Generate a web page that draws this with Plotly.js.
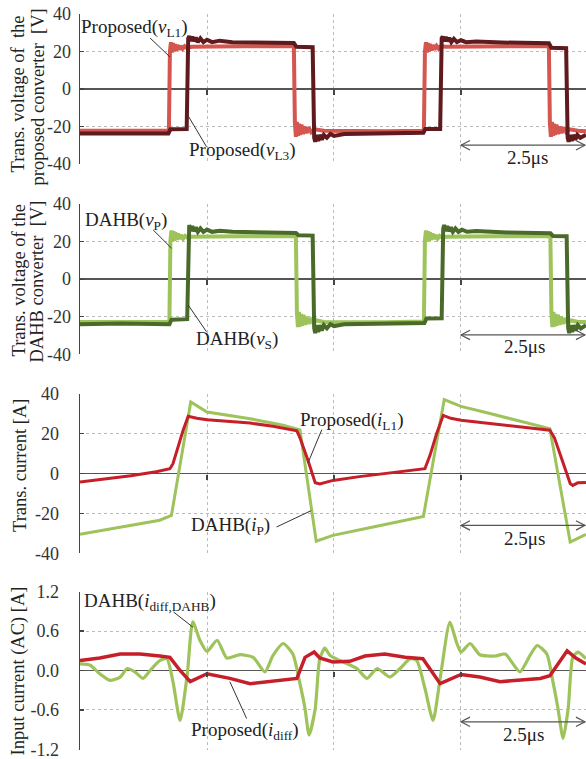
<!DOCTYPE html>
<html><head><meta charset="utf-8">
<script src="https://cdn.plot.ly/plotly-3.0.1.min.js"></script>
<style>html,body{margin:0;padding:0;background:#fff;overflow:hidden}</style>
</head><body><div id="chart" style="width:586px;height:759px"></div>
<script>
// ---- data: [time (µs), value] pairs ----
const vL1 = [[0,-22.3],[1.0,-22.6],[1.75,-22.3],[1.77,20],[1.79,25],[1.81,19.5],[1.83,24.5],[1.85,20],[1.87,24],[1.89,20.5],[1.92,23.5],[1.95,21],[1.98,23],[2.02,21.5],[2.06,22.8],[2.10,22],[2.20,22.5],[3.2,22.8],[4.21,23],[4.23,-18],[4.25,-25.5],[4.27,-17.5],[4.29,-25],[4.31,-18.5],[4.33,-24.5],[4.36,-19],[4.39,-24],[4.42,-20],[4.46,-23.5],[4.50,-20.5],[4.55,-23],[4.62,-21.5],[4.80,-22.3],[6.0,-22.5],[6.77,-22.3],[6.79,20],[6.81,25],[6.83,19.5],[6.85,24.5],[6.87,20],[6.89,24],[6.92,20.5],[6.95,23.5],[6.98,21],[7.02,23],[7.06,21.5],[7.10,22.8],[7.20,22.5],[8.2,22.8],[9.23,23],[9.25,-18],[9.27,-25.5],[9.29,-17.5],[9.31,-25],[9.33,-18.5],[9.35,-24.5],[9.38,-19],[9.41,-24],[9.44,-20],[9.48,-23.5],[9.52,-20.5],[9.57,-23],[9.64,-21.5],[9.80,-22.3],[9.96,-22.5]];
const vL3 = [[0,-23.8],[1.0,-23.6],[1.74,-23.8],[1.78,-21.5],[2.10,-21.3],[2.13,27],[2.15,28.3],[2.18,25.5],[2.21,28],[2.24,25.5],[2.28,27.5],[2.32,25],[2.37,27],[2.43,25],[2.5,26.3],[2.6,25],[2.75,25.8],[3.0,25],[3.5,24.8],[4.0,24.6],[4.21,24.5],[4.26,22.5],[4.58,22.3],[4.61,-26],[4.63,-28.2],[4.66,-24.5],[4.69,-27.8],[4.72,-24.5],[4.76,-27],[4.80,-24.5],[4.86,-26],[4.93,-24],[5.0,-25],[5.2,-24],[5.6,-23.8],[6.2,-23.6],[6.76,-23.3],[6.80,-21.3],[7.09,-21.3],[7.12,27],[7.14,28],[7.17,25.5],[7.20,27.8],[7.23,25.5],[7.27,27.3],[7.31,25],[7.36,26.8],[7.42,25],[7.5,26],[7.6,25],[7.8,25.3],[8.3,24.8],[9.0,24.6],[9.23,24.4],[9.28,22],[9.57,21.8],[9.60,-26],[9.62,-28.2],[9.65,-24.5],[9.68,-27.8],[9.71,-24.5],[9.75,-27],[9.79,-24.5],[9.85,-26],[9.96,-24.5]];
const vP = [[0,-22.8],[1.0,-23],[1.76,-22.8],[1.78,20.5],[1.80,26],[1.82,20],[1.84,25.5],[1.86,20.5],[1.88,25],[1.90,21],[1.93,24.3],[1.96,21.3],[1.99,23.6],[2.03,21.6],[2.07,23],[2.11,22.2],[2.20,22.6],[3.2,22.8],[4.25,22.8],[4.27,-18],[4.29,-25.5],[4.31,-17.5],[4.33,-25.2],[4.35,-18.5],[4.37,-24.8],[4.40,-19],[4.43,-24.3],[4.46,-20],[4.50,-23.8],[4.54,-20.8],[4.59,-23.3],[4.66,-22],[4.80,-22.8],[6.0,-23],[6.77,-22.6],[6.79,20.5],[6.81,26],[6.83,20],[6.85,25.5],[6.87,20.5],[6.89,25],[6.91,21],[6.94,24.3],[6.97,21.3],[7.00,23.6],[7.04,21.6],[7.08,23],[7.13,22.2],[7.22,22.6],[8.2,22.8],[9.26,22.8],[9.28,-18],[9.30,-25.5],[9.32,-17.5],[9.34,-25.2],[9.36,-18.5],[9.38,-24.8],[9.41,-19],[9.44,-24.3],[9.47,-20],[9.51,-23.8],[9.55,-20.8],[9.60,-23.3],[9.67,-22],[9.80,-22.8],[9.96,-22.8]];
const vS = [[0,-24],[0.8,-23.6],[1.76,-24],[1.80,-21.6],[2.11,-21.3],[2.13,27],[2.15,28.8],[2.18,25.5],[2.21,28.3],[2.24,25.5],[2.28,27.6],[2.32,25.2],[2.37,27],[2.43,25.2],[2.5,26.4],[2.6,25.2],[2.75,25.8],[3.0,25.2],[3.6,24.9],[4.25,24.6],[4.30,23.4],[4.58,23.2],[4.61,-26],[4.63,-28.8],[4.66,-24.5],[4.69,-28.2],[4.72,-24.5],[4.76,-27.3],[4.80,-24.5],[4.86,-26.2],[4.93,-24],[5.0,-25],[5.2,-24],[5.8,-23.8],[6.4,-23.5],[6.78,-23.4],[6.82,-20.9],[7.12,-20.8],[7.15,27],[7.17,28.8],[7.20,25.5],[7.23,28.3],[7.26,25.5],[7.30,27.6],[7.34,25.2],[7.39,27],[7.45,25.2],[7.52,26.3],[7.62,25.2],[7.8,25.6],[8.4,24.9],[9.26,24.5],[9.31,23],[9.58,22.9],[9.61,-26],[9.63,-28.8],[9.66,-24.5],[9.69,-28.2],[9.72,-24.5],[9.76,-27.3],[9.80,-24.5],[9.86,-26.2],[9.96,-24.5]];
const iL1 = [[0,-4.2],[0.5,-2.6],[1.0,-1],[1.5,1],[1.77,2.5],[1.83,5],[1.90,10.9],[2.03,21.8],[2.13,28.8],[2.3,27.8],[2.5,27.1],[3.35,25.4],[3.8,23.8],[4.2,21.8],[4.27,21.5],[4.33,18],[4.40,13.4],[4.47,8],[4.53,3.3],[4.63,-4.6],[4.72,-5.2],[4.98,-3.4],[5.5,-1.5],[6.0,0],[6.5,1.5],[6.79,2.5],[6.89,9.2],[7.02,20.1],[7.15,29.3],[7.3,27.8],[7.5,26.8],[8.4,24.3],[9.25,21.8],[9.34,18],[9.41,13],[9.48,7.5],[9.55,2.5],[9.65,-5],[9.70,-5.9],[9.8,-4.6],[9.96,-4.4]];
const iP = [[0,-30.5],[0.79,-26.8],[1.57,-23.4],[1.80,-21],[2.18,36],[2.5,31],[3.35,27.6],[4.0,24.3],[4.33,22],[4.65,-33.9],[4.98,-31],[5.77,-26.8],[6.43,-23.5],[6.76,-21.5],[7.17,37.2],[7.5,33.8],[8.07,30.2],[8.73,25.9],[9.25,22.6],[9.65,-34.4],[9.96,-30.5]];
const iDiff = [[0,0.15],[0.39,0.19],[0.79,0.25],[1.18,0.25],[1.57,0.22],[1.77,0.20],[1.97,0.0],[2.17,-0.17],[2.5,-0.05],[2.95,-0.12],[3.35,-0.20],[3.94,-0.15],[4.27,-0.12],[4.43,0.2],[4.61,0.28],[4.72,0.19],[4.98,0.13],[5.31,0.14],[5.61,0.22],[6.0,0.25],[6.40,0.20],[6.75,0.18],[7.09,-0.20],[7.5,-0.06],[7.87,-0.10],[8.27,-0.17],[9.06,-0.12],[9.25,-0.08],[9.59,0.30],[9.76,0.19],[9.96,0.10]];
const iDiffDAHB = [[0,0.10],[0.2,0.08],[0.39,-0.05],[0.59,-0.15],[0.79,-0.1],[0.93,0.03],[1.08,-0.02],[1.24,-0.12],[1.38,0.0],[1.57,0.15],[1.71,0.18],[1.83,-0.17],[1.97,-0.76],[2.11,-0.07],[2.22,0.74],[2.36,0.46],[2.5,0.29],[2.70,0.46],[2.89,0.19],[3.15,0.24],[3.41,0.20],[3.64,-0.02],[3.80,0.23],[4.0,0.41],[4.19,0.25],[4.33,-0.20],[4.43,-0.58],[4.51,-0.98],[4.63,-0.58],[4.72,0.18],[4.82,0.34],[4.92,0.23],[5.12,0.15],[5.45,0.03],[5.65,-0.12],[5.85,0.03],[6.10,-0.10],[6.30,0.03],[6.50,0.18],[6.63,0.15],[6.79,-0.27],[6.95,-0.76],[7.09,-0.12],[7.28,0.73],[7.42,0.41],[7.50,0.28],[7.68,0.41],[7.87,0.24],[8.17,0.22],[8.37,0.25],[8.66,-0.02],[8.86,0.23],[9.0,0.38],[9.19,0.25],[9.31,-0.17],[9.41,-0.58],[9.51,-1.03],[9.61,-0.58],[9.70,0.20],[9.80,0.28],[9.96,0.18]];

const vTickVals = [-40,-20,0,20,40];
const vTickText = ['-40','-20','0','20','40'];
const aTickVals = [-1.2,-0.6,0,0.6,1.2];
const aTickText = ['-1.2','-0.6','0.0','0.6','1.2'];
const gridTimes = [2.5,5,7.5];

// ---- layout helpers ----
const W=586, H=759, ML=80, PW=W-ML;
const panelsPx=[[14,164],[204,354.3],[394,553.3],[591.5,749.5]];
const dom = p => [1-p[1]/H, 1-p[0]/H];
const FONT='Liberation Serif';
const TXT='#222';
const xs = a => a.map(p=>p[0]);
const ys = a => a.map(p=>p[1]);
const XR=[0,9.961];
const yRanges=[[-40.02,40.02],[-40.02,40.02],[-40.02,40.02],[-1.2005,1.2005]];

function tr(d, color, width, i, spline){
  return {x:xs(d), y:ys(d), type:'scatter', mode:'lines',
    line:spline?{color:color, width:width, shape:'spline', smoothing:0.6}:{color:color, width:width},
    xaxis:'x'+(i===1?'':i), yaxis:'y'+(i===1?'':i), hoverinfo:'skip'};
}
const data=[
  tr(vL1,'#d5554f',4,1), tr(vL3,'#5e1a1c',4,1),
  tr(vP,'#9dc35a',4,2), tr(vS,'#4a6a29',4,2),
  tr(iP,'#9dc35a',3,3), tr(iL1,'#c61f29',3,3),
  tr(iDiffDAHB,'#9dc35a',3.2,4,true), tr(iDiff,'#c61f29',3.5,4)
];

const layout={width:W,height:H,margin:{l:ML,r:0,t:0,b:0},
  paper_bgcolor:'#fff',plot_bgcolor:'#fff',showlegend:false,hovermode:false,
  font:{family:FONT,color:TXT,size:18},
  annotations:[],shapes:[]};

const standoffs=[4,4,16,16];
for(let i=1;i<=4;i++){
  const d=dom(panelsPx[i-1]);
  const sfx=i===1?'':i;
  layout['xaxis'+sfx]={domain:[0,1],range:XR,anchor:'free',position:(d[0]+d[1])/2,
    showline:false,zeroline:false,showticklabels:false,
    tickvals:gridTimes,ticks:'outside',ticklen:5,tickwidth:1.5,tickcolor:'#444',
    showgrid:true,gridcolor:'#bbbbbb',griddash:'dot',gridwidth:1,fixedrange:true};
  const isA=i===4;
  layout['yaxis'+sfx]={domain:d,range:yRanges[i-1],anchor:'x'+sfx,
    tickmode:'array',tickvals:isA?aTickVals:vTickVals,ticktext:isA?aTickText:vTickText,
    ticks:'inside',ticklen:4,tickwidth:1.2,tickcolor:'#444',
    showline:true,linecolor:'#444',linewidth:1.5,
    showgrid:true,gridcolor:'#bbbbbb',griddash:'dot',gridwidth:1,
    zeroline:true,zerolinecolor:'#555',zerolinewidth:1.5,ticklabeloverflow:'allow',
    tickfont:{family:FONT,size:18,color:'#333'},ticklabelstandoff:standoffs[i-1],fixedrange:true};
}

function label(i,text,x,y){
  const s=i===1?'':i;
  layout.annotations.push({xref:'x'+s,yref:'y'+s,x:x,y:y,text:text,showarrow:false,
    xanchor:'center',yanchor:'middle',font:{family:FONT,size:19,color:TXT}});
}
function leader(i,x0,y0,x1,y1){
  const s=i===1?'':i;
  layout.shapes.push({type:'line',xref:'x'+s,yref:'y'+s,x0:x0,y0:y0,x1:x1,y1:y1,
    line:{color:'#333',width:1},layer:'above'});
}
function span(i,y,tx,ty){
  const s=i===1?'':i;
  const p=panelsPx[i-1], r=yRanges[i-1];
  const h=4.7*(r[1]-r[0])/(p[1]-p[0]);          // half-height of head, in data units
  const L=9*(XR[1]-XR[0])/PW;                    // head length, in data units
  const a=7.5, b=9.94;
  const st={color:'#555',width:1.2};
  layout.shapes.push({type:'line',xref:'x'+s,yref:'y'+s,x0:a,y0:y,x1:b,y1:y,line:st,layer:'above'});
  layout.shapes.push({type:'path',xref:'x'+s,yref:'y'+s,
    path:`M${a+L},${y+h} L${a},${y} L${a+L},${y-h}`,line:st,layer:'above'});
  layout.shapes.push({type:'path',xref:'x'+s,yref:'y'+s,
    path:`M${b-L},${y+h} L${b},${y} L${b-L},${y-h}`,line:st,layer:'above'});
  label(i,'2.5\u03bcs',tx,ty);
}
function ytitle(text,px,py){
  layout.annotations.push({xref:'paper',yref:'paper',x:(px-ML)/PW,y:1-py/H,text:text,textangle:-90,
    showarrow:false,xanchor:'center',yanchor:'middle',font:{family:FONT,size:18.5,color:TXT}});
}

// panel 1
label(1,'Proposed(<i>v</i><sub>L1</sub>)',1.07,32.5);
label(1,'Proposed(<i>v</i><sub>L3</sub>)',3.20,-33.3);
leader(1,1.38,27.2,1.77,17.1);
leader(1,2.49,-30.8,2.12,-13.9);
span(1,-30,8.80,-36.8);
// panel 2
label(2,'DAHB(<i>v</i><sub>P</sub>)',0.915,30.9);
label(2,'DAHB(<i>v</i><sub>S</sub>)',3.10,-32.6);
leader(2,1.44,26.2,1.805,16.4);
leader(2,2.49,-28.0,2.13,-13.8);
span(2,-29.7,8.75,-35.9);
// panel 3
label(3,'Proposed(<i>i</i><sub>L1</sub>)',5.35,26.3);
label(3,'DAHB(<i>i</i><sub>P</sub>)',2.97,-26.5);
leader(3,4.76,22.1,4.49,5.5);
leader(3,3.87,-26.8,4.55,-18.6);
span(3,-26,8.76,-32.5);
// panel 4
label(4,'DAHB(<i>i</i><sub>diff,DAHB</sub>)',1.38,1.04);
label(4,'Proposed(<i>i</i><sub>diff</sub>)',3.25,-0.92);
leader(4,1.84,0.89,2.22,0.66);
leader(4,3.28,-0.73,2.95,-0.17);
span(4,-0.78,8.74,-0.97);

// y titles
ytitle('Trans. voltage of\u00a0 the',18,94.5);
ytitle('proposed converter\u00a0 [V]',37,97.5);
ytitle('Trans. voltage of the',18,280.5);
ytitle('DAHB converter\u00a0 [V]',37,281.5);
ytitle('Trans. current [A]',20,466);
ytitle('Input current (AC) [A]',17.5,671);

Plotly.newPlot('chart',data,layout,{staticPlot:true,displayModeBar:false});
</script></body></html>
